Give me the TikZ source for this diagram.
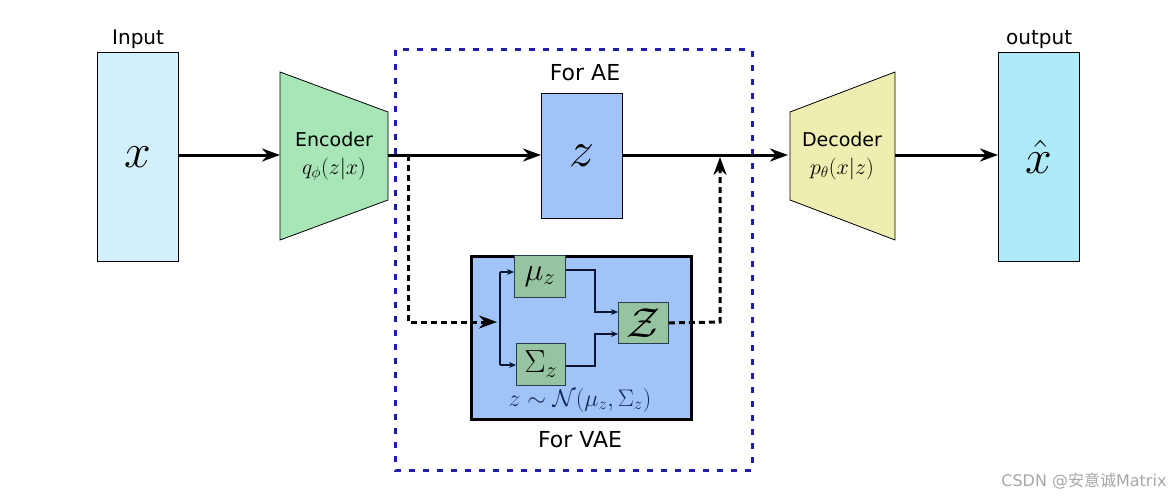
\documentclass[tikz,border=0pt]{standalone}
\usepackage{fix-cm}
\usepackage{fontspec}
\setmainfont{DejaVu Sans}
\newfontfamily\cjk{Noto Sans CJK SC}
\usetikzlibrary{arrows.meta}
\begin{document}
\begin{tikzpicture}[x=1pt,y=-1pt,
  lbl/.style={font=\fontsize{22}{26}\selectfont},
  ar/.style={line width=3pt,-{Stealth[length=18pt,width=13pt]}},
  dar/.style={line width=3pt,dash pattern=on 6pt off 4pt,-{Stealth[length=18pt,width=13pt]}},
  thin/.style={line width=2pt,draw={rgb,255:red,10;green,20;blue,50},-{Stealth[length=7pt,width=6pt]}},
  gbox/.style={draw={rgb,255:red,40;green,60;blue,80},line width=0.8pt,fill={rgb,255:red,150;green,196;blue,160},inner sep=0pt}]
\useasboundingbox (0,0) rectangle (1174,500);
\definecolor{inc}{RGB}{212,240,252}
\definecolor{outc}{RGB}{174,234,248}
\definecolor{zc}{RGB}{160,196,248}
\definecolor{encc}{RGB}{168,230,184}
\definecolor{decc}{RGB}{238,238,176}
\definecolor{dblue}{RGB}{30,30,170}
% dashed frame
\draw[dblue,line width=3pt,dash pattern=on 6pt off 8pt] (395,50) rectangle (752,470);
% input/output
\node[draw,line width=1.2pt,fill=inc,minimum width=81pt,minimum height=209pt,anchor=north west] (in) at (97,52) {\fontsize{48}{52}\selectfont$x$};
\node[font=\fontsize{20}{24}\selectfont,anchor=south] (inl) at (in.north) {Input};
\node[draw,line width=1.2pt,fill=outc,minimum width=81pt,minimum height=209pt,anchor=north west] (out) at (998,52) {\fontsize{48}{52}\selectfont$\hat{x}$};
\node[font=\fontsize{20}{24}\selectfont,anchor=south] (outl) at (out.north) {output};
% encoder / decoder
\draw[line width=0.8pt,fill=encc] (280,72) -- (388,112) -- (388,200) -- (280,240) -- cycle;
\node[font=\fontsize{19}{24}\selectfont,align=center] (enc) at (334,156) {Encoder\\[4pt]{\fontsize{22}{24}\selectfont$q_\phi(z|x)$}};
\draw[line width=0.8pt,fill=decc] (790,112) -- (895,72) -- (895,240) -- (790,200) -- cycle;
\node[font=\fontsize{19}{24}\selectfont,align=center] (dec) at (842,156) {Decoder\\[4pt]{\fontsize{22}{24}\selectfont$p_\theta(x|z)$}};
\coordinate (encR) at (388,155); \coordinate (encL) at (280,155);
\coordinate (decL) at (788,155); \coordinate (decR) at (895,155);
% AE z
\node[lbl] (forae) at (585,73) {For AE};
\node[draw,line width=0.8pt,fill=zc,minimum width=81pt,minimum height=125pt,anchor=north west] (z) at (541,93) {\fontsize{50}{52}\selectfont$z$};
% VAE box
\node[draw,line width=3pt,fill=zc,minimum width=220pt,minimum height=163pt,anchor=north west] (vae) at (470,255) {};
\node[gbox,minimum width=51pt,minimum height=42pt,anchor=north west] (mu) at (514,255) {\fontsize{32}{32}\selectfont$\mu_z$};
\node[gbox,minimum width=49pt,minimum height=42pt,anchor=north west] (sig) at (516,343) {\fontsize{32}{32}\selectfont$\Sigma_z$};
\node[gbox,minimum width=50pt,minimum height=41pt,anchor=north west] (zz) at (618,302) {\fontsize{42}{42}\selectfont$\mathcal{Z}$};
\node[font=\fontsize{24}{26}\selectfont,text={rgb,255:red,20;green,40;blue,90}] (form) at (580,400) {$z\sim\mathcal{N}(\mu_z,\Sigma_z)$};
\node[lbl] (forvae) at (580,440) {For VAE};
\coordinate (br) at (500,322);
\coordinate (vin) at (497,322);
\coordinate (mx) at (595,270);
\coordinate (sx) at (595,366);
\coordinate (zt) at (618,312);
\coordinate (zb) at (618,334);
% main arrows
\draw[ar] (in.east |- encL) -- (encL);
\draw[ar] (encR) -- (z.west |- encR);
\draw[ar] (z.east |- decL) -- (decL);
\draw[ar] (decR) -- (out.west |- decR);
% dashed path
\coordinate (d1) at (408,155); \coordinate (d2) at (720,157);
\draw[dar] (d1) -- (408,322) -- (vin);
\draw[dar] (zz.east) -- (720,322) -- (d2);
% inner lines
\draw[line width=2pt,draw={rgb,255:red,10;green,20;blue,50}] (br |- 0,272) -- (br |- 0,365);
\draw[thin] (br |- 0,272) -- (mu.west |- 0,272);
\draw[thin] (br |- 0,365) -- (sig.west |- 0,365);
\draw[thin] (mu.east |- mx) -- (mx) -- (mx |- zt) -- (zt);
\draw[thin] (sig.east |- sx) -- (sx) -- (sx |- zb) -- (zb);
% watermark
\node[text=gray!70,font=\fontsize{16}{18}\selectfont,anchor=east] (wm) at (1170,481) {CSDN @{\cjk 安意诚}Matrix};
\end{tikzpicture}
\end{document}
